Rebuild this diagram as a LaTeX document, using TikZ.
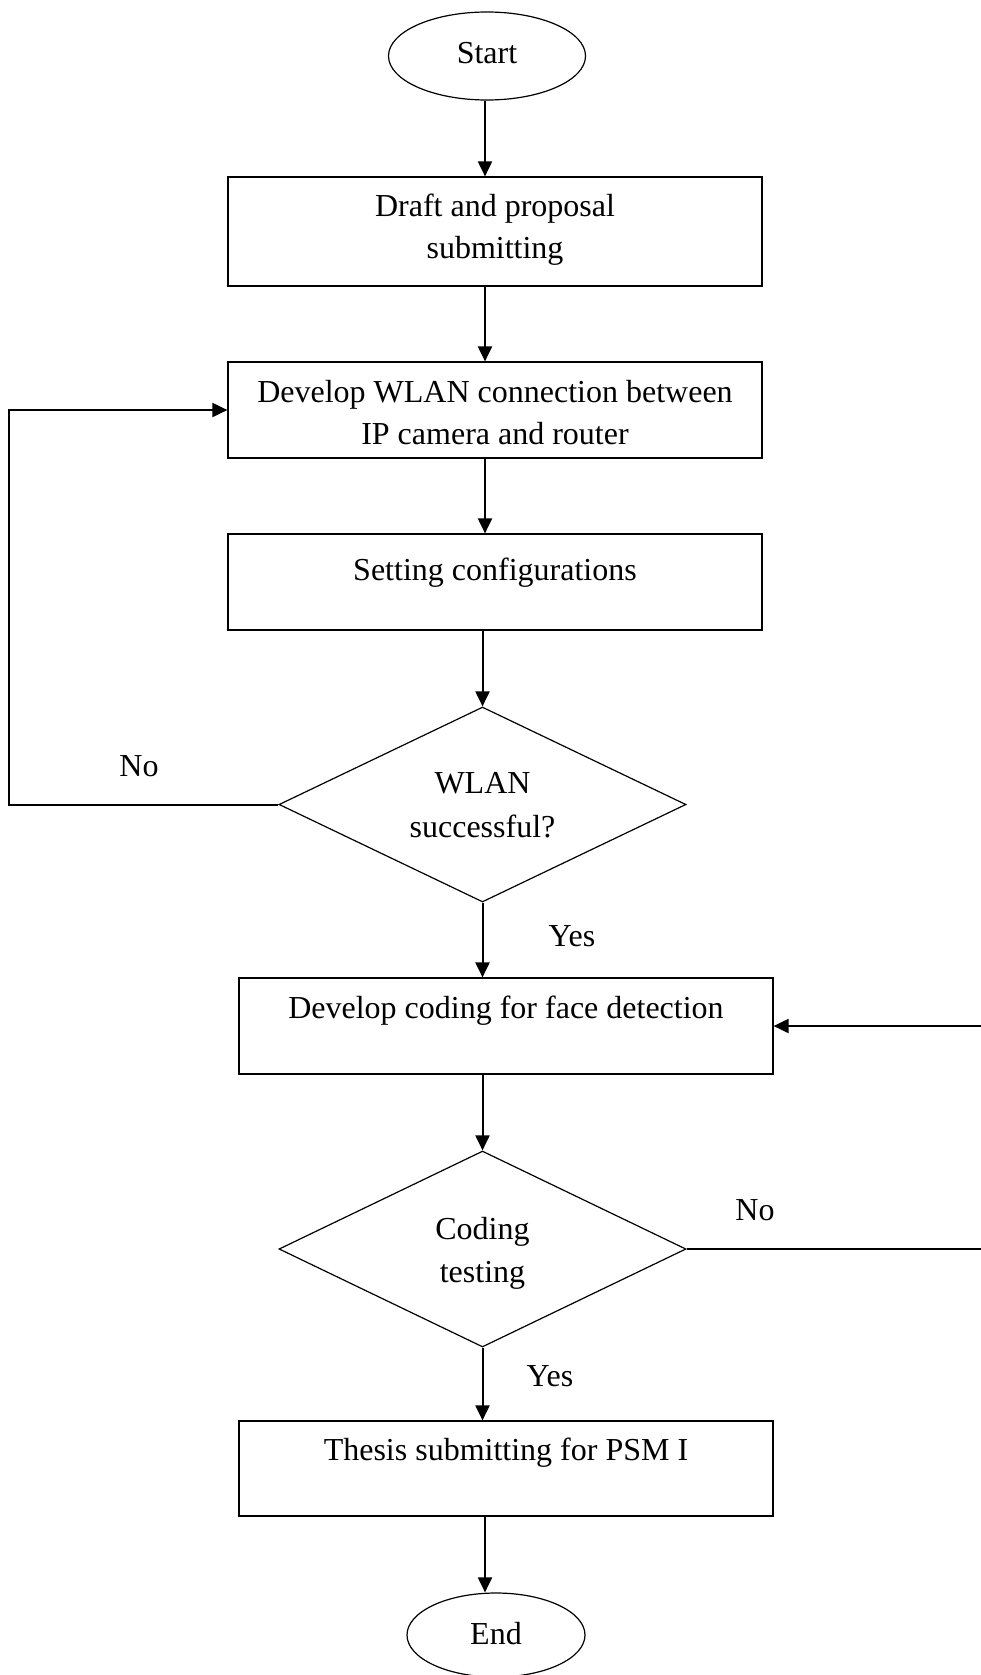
\documentclass[tikz,border=0pt]{standalone}
\usepackage{fontspec}
\setmainfont{Liberation Serif}
\usetikzlibrary{shapes.geometric,arrows.meta}
\newcommand{\twolines}[3][0pt]{\begin{tabular}[t]{@{}c@{}}#2\\[#1]#3\end{tabular}}
\begin{document}
\begin{tikzpicture}[x=0.5pt,y=-0.5pt,
  every node/.style={font=\fontsize{16}{21}\selectfont, inner sep=0pt},
  procbox/.style={draw, line width=0.6pt, rectangle, minimum width=267pt, text height=11pt},
  decision/.style={draw, line width=0.6pt, diamond, aspect=2.09, minimum width=203.5pt, minimum height=97.5pt, text height=11pt},
  terminal/.style={draw, line width=0.6pt, ellipse, text height=11pt},
  arr/.style={line width=1pt, -{Triangle[length=7.5pt,width=7pt]}},
  lbl/.style={anchor=base}
]
\useasboundingbox (0,0) rectangle (980,1675);

\coordinate (ax) at (485,0);
\coordinate (lc) at (9,0);
\coordinate (rc) at (982,0);

\node[terminal, minimum width=98.5pt, minimum height=44pt, text depth=3pt] (start) at (487,56) {Start};
\node[procbox, minimum height=54.5pt, text depth=26.5pt] (b1) at (495,231.5) {\twolines{Draft and proposal}{submitting}};
\node[procbox, minimum height=48pt, text depth=19pt] (b2) at (495,410) {\twolines{Develop WLAN connection between}{IP camera and router}};
\node[procbox, minimum height=48pt, text depth=13pt] (b3) at (495,582) {Setting configurations};
\node[decision, text depth=22.5pt] (d1) at (482.5,804.5) {\twolines[1pt]{WLAN}{successful?}};
\node[procbox, minimum height=48pt, text depth=18.6pt] (b4) at (506,1026) {Develop coding for face detection};
\node[decision, minimum height=98pt, text depth=21pt] (d2) at (482.5,1249) {\twolines[0.5pt]{Coding}{testing}};
\node[procbox, minimum height=47.5pt, text depth=18.8pt] (b5) at (506,1468.5) {Thesis submitting for PSM I};
\node[terminal, minimum width=89pt, minimum height=42pt, text depth=2pt] (end) at (496,1635) {End};

\node[lbl] (no1) at (139,776.7) {No};
\node[lbl] (yes1) at (572,946) {Yes};
\node[lbl] (no2) at (755,1220.8) {No};
\node[lbl] (yes2) at (550,1386.4) {Yes};

\draw[arr] (start.south -| ax) -- (b1.north -| ax);
\draw[arr] (b1.south -| ax) -- (b2.north -| ax);
\draw[arr] (b2.south -| ax) -- (b3.north -| ax);
\draw[arr] (b3.south -| d1.north) -- (d1.north);
\draw[arr] (d1.south) -- (d1.south |- b4.north);
\draw[arr] (b4.south -| d2.north) -- (d2.north);
\draw[arr] (d2.south) -- (d2.south |- b5.north);
\draw[arr] (b5.south -| ax) -- (end.north -| ax);

\draw[arr] (d1.west) -- (d1.west -| lc) |- (b2.west);
\draw[arr] (d2.east) -- (d2.east -| rc) |- (b4.east);
\end{tikzpicture}
\end{document}
